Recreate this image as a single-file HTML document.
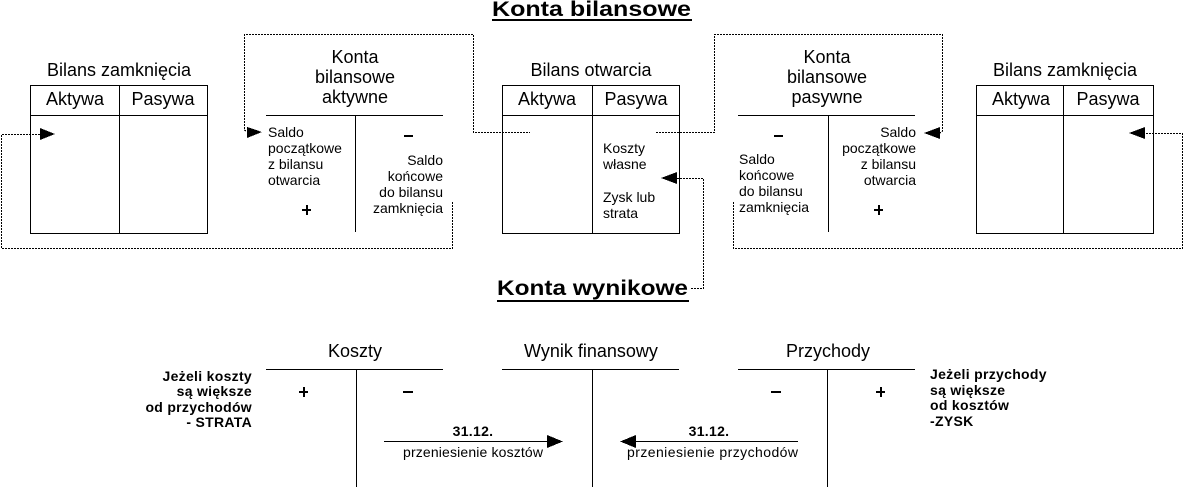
<!DOCTYPE html>
<html><head><meta charset="utf-8"><style>
html,body{margin:0;padding:0;background:#fff;}
svg{display:block;}
text{font-family:"Liberation Sans",Arial,sans-serif;fill:#000;}
.t18{font-size:18px;}
.t14{font-size:14px;}
.b14{font-size:14px;font-weight:bold;letter-spacing:0.3px;}
.h{font-size:21px;font-weight:bold;}
.ln{stroke:#000;stroke-width:1;fill:none;}
.d{stroke:#000;stroke-width:1;fill:none;stroke-dasharray:2 1;}
</style></head><body>
<svg width="1184" height="487" viewBox="0 0 1184 487" xmlns="http://www.w3.org/2000/svg" shape-rendering="crispEdges">
<rect width="1184" height="487" fill="#fff"/>

<!-- Titles -->
<text class="h" x="492" y="16" textLength="199" lengthAdjust="spacingAndGlyphs">Konta bilansowe</text>
<rect x="492" y="19" width="200" height="2" fill="#000"/>
<text class="h" x="497" y="295" textLength="191" lengthAdjust="spacingAndGlyphs">Konta wynikowe</text>
<rect x="497" y="300" width="192" height="2" fill="#000"/>

<!-- Left Bilans zamkniecia -->
<text class="t18" x="119" y="76" text-anchor="middle">Bilans zamknięcia</text>
<rect class="ln" x="30.5" y="85.5" width="177" height="148"/>
<line class="ln" x1="30" y1="115.5" x2="208" y2="115.5"/>
<line class="ln" x1="119.5" y1="85" x2="119.5" y2="234"/>
<text class="t18" x="75" y="105" text-anchor="middle">Aktywa</text>
<text class="t18" x="163" y="105" text-anchor="middle">Pasywa</text>

<!-- Konta bilansowe aktywne -->
<text class="t18" x="355" y="63" text-anchor="middle">Konta</text>
<text class="t18" x="355" y="83" text-anchor="middle">bilansowe</text>
<text class="t18" x="355" y="103" text-anchor="middle">aktywne</text>
<line class="ln" x1="266" y1="115.5" x2="443" y2="115.5"/>
<line class="ln" x1="355.5" y1="115" x2="355.5" y2="232"/>
<text class="t14" x="268" y="137">Saldo</text>
<text class="t14" x="268" y="153">początkowe</text>
<text class="t14" x="268" y="169">z bilansu</text>
<text class="t14" x="268" y="185">otwarcia</text>
<text class="t14" x="443" y="165" text-anchor="end">Saldo</text>
<text class="t14" x="443" y="181" text-anchor="end">końcowe</text>
<text class="t14" x="443" y="197" text-anchor="end">do bilansu</text>
<text class="t14" x="443" y="213" text-anchor="end">zamknięcia</text>
<rect x="302" y="209" width="9" height="2" fill="#000"/>
<rect x="306" y="205" width="2" height="10" fill="#000"/>
<rect x="404" y="135" width="9" height="2" fill="#000"/>

<!-- Bilans otwarcia -->
<text class="t18" x="591" y="76" text-anchor="middle">Bilans otwarcia</text>
<rect class="ln" x="502.5" y="85.5" width="177" height="148"/>
<line class="ln" x1="502" y1="115.5" x2="680" y2="115.5"/>
<line class="ln" x1="592.5" y1="85" x2="592.5" y2="234"/>
<text class="t18" x="547" y="105" text-anchor="middle">Aktywa</text>
<text class="t18" x="636" y="105" text-anchor="middle">Pasywa</text>
<text class="t14" x="603" y="153">Koszty</text>
<text class="t14" x="603" y="169">własne</text>
<text class="t14" x="603" y="202">Zysk lub</text>
<text class="t14" x="603" y="218">strata</text>

<!-- Konta bilansowe pasywne -->
<text class="t18" x="827" y="63" text-anchor="middle">Konta</text>
<text class="t18" x="827" y="83" text-anchor="middle">bilansowe</text>
<text class="t18" x="827" y="103" text-anchor="middle">pasywne</text>
<line class="ln" x1="738" y1="115.5" x2="915" y2="115.5"/>
<line class="ln" x1="828.5" y1="115" x2="828.5" y2="232"/>
<text class="t14" x="739" y="164">Saldo</text>
<text class="t14" x="739" y="180">końcowe</text>
<text class="t14" x="739" y="196">do bilansu</text>
<text class="t14" x="739" y="212">zamknięcia</text>
<text class="t14" x="916" y="137" text-anchor="end">Saldo</text>
<text class="t14" x="916" y="153" text-anchor="end">początkowe</text>
<text class="t14" x="916" y="169" text-anchor="end">z bilansu</text>
<text class="t14" x="916" y="185" text-anchor="end">otwarcia</text>
<rect x="774" y="135" width="9" height="2" fill="#000"/>
<rect x="874" y="209" width="9" height="2" fill="#000"/>
<rect x="878" y="205" width="2" height="10" fill="#000"/>

<!-- Right Bilans zamkniecia -->
<text class="t18" x="1065" y="76" text-anchor="middle">Bilans zamknięcia</text>
<rect class="ln" x="976.5" y="85.5" width="177" height="148"/>
<line class="ln" x1="976" y1="115.5" x2="1154" y2="115.5"/>
<line class="ln" x1="1063.5" y1="85" x2="1063.5" y2="234"/>
<text class="t18" x="1021" y="105" text-anchor="middle">Aktywa</text>
<text class="t18" x="1108" y="105" text-anchor="middle">Pasywa</text>

<!-- Dashed connectors top -->
<polyline class="d" points="40,134.5 1.5,134.5 1.5,248.5 452.5,248.5 452.5,202"/>
<polygon points="40,128 55,134 40,140" fill="#000"/>
<polyline class="d" points="246,131 244.5,130 244.5,34.5 473.5,34.5 473.5,132.5 530,132.5"/>
<polygon points="247,127 262,132 247,138" fill="#000"/>
<polyline class="d" points="656,132.5 714.5,132.5 714.5,34.5 942.5,34.5 942.5,131 940,133"/>
<polygon points="940,127 924,133 940,139" fill="#000"/>
<polyline class="d" points="733.5,202 733.5,248.5 1182.5,248.5 1182.5,133.5 1145,133.5"/>
<polygon points="1145,127 1129,133 1145,139" fill="#000"/>
<polyline class="d" points="677,178.5 703.5,178.5 703.5,288.5 690,288.5"/>
<polygon points="677,172 661,178 677,184" fill="#000"/>

<!-- Bottom: Koszty -->
<text class="t18" x="355" y="357" text-anchor="middle">Koszty</text>
<line class="ln" x1="266" y1="369.5" x2="443" y2="369.5"/>
<line class="ln" x1="356.5" y1="369" x2="356.5" y2="487"/>
<rect x="299" y="391" width="9" height="2" fill="#000"/>
<rect x="303" y="387" width="2" height="10" fill="#000"/>
<rect x="403" y="391" width="10" height="2" fill="#000"/>

<!-- Wynik finansowy -->
<text class="t18" x="591" y="357" text-anchor="middle">Wynik finansowy</text>
<line class="ln" x1="502" y1="369.5" x2="679" y2="369.5"/>
<line class="ln" x1="592.5" y1="369" x2="592.5" y2="487"/>

<!-- Przychody -->
<text class="t18" x="828" y="357" text-anchor="middle">Przychody</text>
<line class="ln" x1="738" y1="369.5" x2="915" y2="369.5"/>
<line class="ln" x1="827.5" y1="369" x2="827.5" y2="487"/>
<rect x="771" y="391" width="10" height="2" fill="#000"/>
<rect x="876" y="391" width="9" height="2" fill="#000"/>
<rect x="880" y="387" width="2" height="10" fill="#000"/>

<!-- Arrows bottom -->
<line class="ln" x1="384" y1="441.5" x2="550" y2="441.5"/>
<polygon points="547,435 563,441.5 547,448" fill="#000"/>
<text class="b14" x="473" y="436" text-anchor="middle">31.12.</text>
<text class="t14" x="403" y="457" textLength="140" lengthAdjust="spacing">przeniesienie kosztów</text>

<line class="ln" x1="632" y1="441.5" x2="798" y2="441.5"/>
<polygon points="636,435 620,441.5 636,448" fill="#000"/>
<text class="b14" x="709" y="436" text-anchor="middle">31.12.</text>
<text class="t14" x="627" y="457" textLength="171" lengthAdjust="spacing">przeniesienie przychodów</text>

<!-- Side notes -->
<text class="b14" x="252" y="381" text-anchor="end">Jeżeli koszty</text>
<text class="b14" x="252" y="396" text-anchor="end">są większe</text>
<text class="b14" x="252" y="412" text-anchor="end">od przychodów</text>
<text class="b14" x="252" y="427" text-anchor="end">- STRATA</text>

<text class="b14" x="930" y="379">Jeżeli przychody</text>
<text class="b14" x="930" y="395">są większe</text>
<text class="b14" x="930" y="410">od kosztów</text>
<text class="b14" x="930" y="426">-ZYSK</text>
</svg>
</body></html>
